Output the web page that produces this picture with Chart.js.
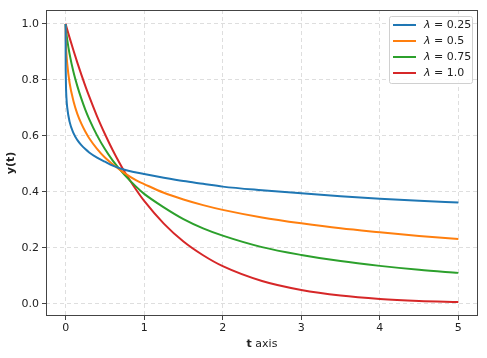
<!DOCTYPE html>
<html>
<head>
<meta charset="utf-8">
<script src="https://cdn.jsdelivr.net/npm/chart.js@4"></script>
<style>
  html, body { margin: 0; padding: 0; background: #fff; }
  #c { display: block; }
</style>
</head>
<body>
<canvas id="c" width="487" height="358"></canvas>
<script>
// values
var tValues = [0, 0.0001, 0.001, 0.005, 0.01, 0.02, 0.05, 0.1, 0.15, 0.2, 0.25, 0.3, 0.4, 0.5, 0.6, 0.75, 0.9, 1, 1.25, 1.5, 1.75, 2, 2.5, 3, 3.5, 4, 4.5, 5];
var yLam025 = [1, 0.900, 0.834, 0.770, 0.737, 0.702, 0.651, 0.610, 0.585, 0.567, 0.553, 0.541, 0.5225, 0.508, 0.494, 0.479, 0.4695, 0.464, 0.451, 0.439, 0.429, 0.419, 0.406, 0.395, 0.385, 0.376, 0.3685, 0.362];
var yLam05 = [1, 0.989, 0.965, 0.925, 0.896, 0.859, 0.790, 0.724, 0.678, 0.644, 0.616, 0.592, 0.554, 0.523, 0.499, 0.467, 0.441, 0.428, 0.397, 0.373, 0.353, 0.336, 0.309, 0.288, 0.270, 0.256, 0.243, 0.232];
var yLam075 = [1, 0.999, 0.994, 0.980, 0.966, 0.944, 0.893, 0.828, 0.777, 0.733, 0.694, 0.660, 0.602, 0.553, 0.512, 0.461, 0.418, 0.393, 0.345, 0.303, 0.270, 0.244, 0.203, 0.175, 0.153, 0.136, 0.122, 0.111];
var yLam1 = [1, 1.000, 0.999, 0.995, 0.990, 0.980, 0.951, 0.905, 0.861, 0.819, 0.779, 0.741, 0.670, 0.607, 0.549, 0.472, 0.407, 0.368, 0.287, 0.223, 0.174, 0.135, 0.082, 0.050, 0.030, 0.018, 0.011, 0.007];
var lambdaValues = ['0.25', '0.5', '0.75', '1.0'];
var seriesColors = ['#1f77b4', '#ff7f0e', '#2ca02c', '#d62728'];
var xTicks = [0, 1, 2, 3, 4, 5];
var yTicks = [0, 0.2, 0.4, 0.6, 0.8, 1.0];

var FONT = 'DejaVu Sans';

function toPoints(ys) {
    var pts = [];
    for (var i = 0; i < tValues.length; i++) {
        pts.push({ x: tValues[i], y: ys[i] });
    }
    return pts;
}

var allY = [yLam025, yLam05, yLam075, yLam1];
var datasets = [];
for (var k = 0; k < allY.length; k++) {
    datasets.push({
        label: '\u03bb = ' + lambdaValues[k],
        data: toPoints(allY[k]),
        borderColor: seriesColors[k],
        backgroundColor: seriesColors[k],
        borderWidth: 2,
        pointRadius: 0,
        cubicInterpolationMode: 'monotone',
        fill: false
    });
}

// frame, legend box and mixed-weight x title
var extrasPlugin = {
    id: 'extras',
    afterDraw: function (chart) {
        var ctx = chart.ctx;
        var a = chart.chartArea;
        ctx.save();
        ctx.strokeStyle = '#444';
        ctx.lineWidth = 1;
        ctx.strokeRect(a.left + 0.5, a.top + 0.5, a.right - a.left - 1, a.bottom - a.top - 1);

        // legend
        var bx = 389, by = 16, bw = 83, bh = 67;
        ctx.fillStyle = 'rgba(255,255,255,0.85)';
        ctx.strokeStyle = '#d0d0d0';
        ctx.lineWidth = 1;
        ctx.beginPath();
        ctx.roundRect(bx + 0.5, by + 0.5, bw, bh, 2);
        ctx.fill();
        ctx.stroke();
        ctx.textBaseline = 'middle';
        ctx.textAlign = 'left';
        for (var i = 0; i < lambdaValues.length; i++) {
            var ry = by + 9 + i * 16;
            ctx.strokeStyle = seriesColors[i];
            ctx.lineWidth = 2;
            ctx.beginPath();
            ctx.moveTo(bx + 4, ry);
            ctx.lineTo(bx + 27, ry);
            ctx.stroke();
            ctx.fillStyle = '#222';
            ctx.font = 'italic 11px "' + FONT + '"';
            ctx.fillText('\u03bb', bx + 35, ry);
            var lw = ctx.measureText('\u03bb').width;
            ctx.font = '11px "' + FONT + '"';
            ctx.fillText(' = ' + lambdaValues[i], bx + 35 + lw, ry);
        }

        // x axis title: bold "t" + " axis"
        var cx = (a.left + a.right) / 2;
        ctx.fillStyle = '#222';
        ctx.textBaseline = 'alphabetic';
        ctx.font = 'bold 11px "' + FONT + '"';
        var w1 = ctx.measureText('t').width;
        ctx.font = '11px "' + FONT + '"';
        var w2 = ctx.measureText(' axis').width;
        var sx = cx - (w1 + w2) / 2;
        ctx.font = 'bold 11px "' + FONT + '"';
        ctx.fillText('t', sx, 347);
        ctx.font = '11px "' + FONT + '"';
        ctx.fillText(' axis', sx + w1, 347);
        ctx.restore();
    }
};

var ctxEl = document.getElementById('c');
var chart = new Chart(ctxEl, {
    type: 'line',
    data: { datasets: datasets },
    options: {
        responsive: false,
        animation: false,
        layout: { padding: { top: 10, right: 9, left: 0, bottom: 0 } },
        plugins: {
            legend: { display: false },
            tooltip: { enabled: false }
        },
        scales: {
            x: {
                type: 'linear',
                min: -0.25,
                max: 5.25,
                afterBuildTicks: function (scale) {
                    scale.ticks = xTicks.map(function (v) { return { value: v }; });
                },
                afterFit: function (scale) { scale.height = 42; },
                ticks: {
                    color: '#222',
                    font: { family: FONT, size: 11 },
                    padding: 2,
                    maxRotation: 0,
                    callback: function (v) { return String(v); }
                },
                grid: {
                    color: 'rgba(0,0,0,0.13)',
                    tickColor: '#444',
                    tickLength: 4,
                    drawTicks: true
                },
                border: { display: false, dash: [4, 3] }
            },
            y: {
                type: 'linear',
                min: -0.043,
                max: 1.0497,
                afterBuildTicks: function (scale) {
                    scale.ticks = yTicks.map(function (v) { return { value: v }; });
                },
                afterFit: function (scale) { scale.width = 46; },
                ticks: {
                    color: '#222',
                    font: { family: FONT, size: 11 },
                    padding: 3,
                    callback: function (v) { return v.toFixed(1); }
                },
                grid: {
                    color: 'rgba(0,0,0,0.13)',
                    tickColor: '#444',
                    tickLength: 4,
                    drawTicks: true
                },
                border: { display: false, dash: [4, 3] },
                title: {
                    display: true,
                    text: 'y(t)',
                    color: '#222',
                    font: { family: FONT, size: 11, weight: 'bold' },
                    padding: { top: 5, bottom: 0 }
                }
            }
        }
    },
    plugins: [extrasPlugin]
});
</script>
</body>
</html>
